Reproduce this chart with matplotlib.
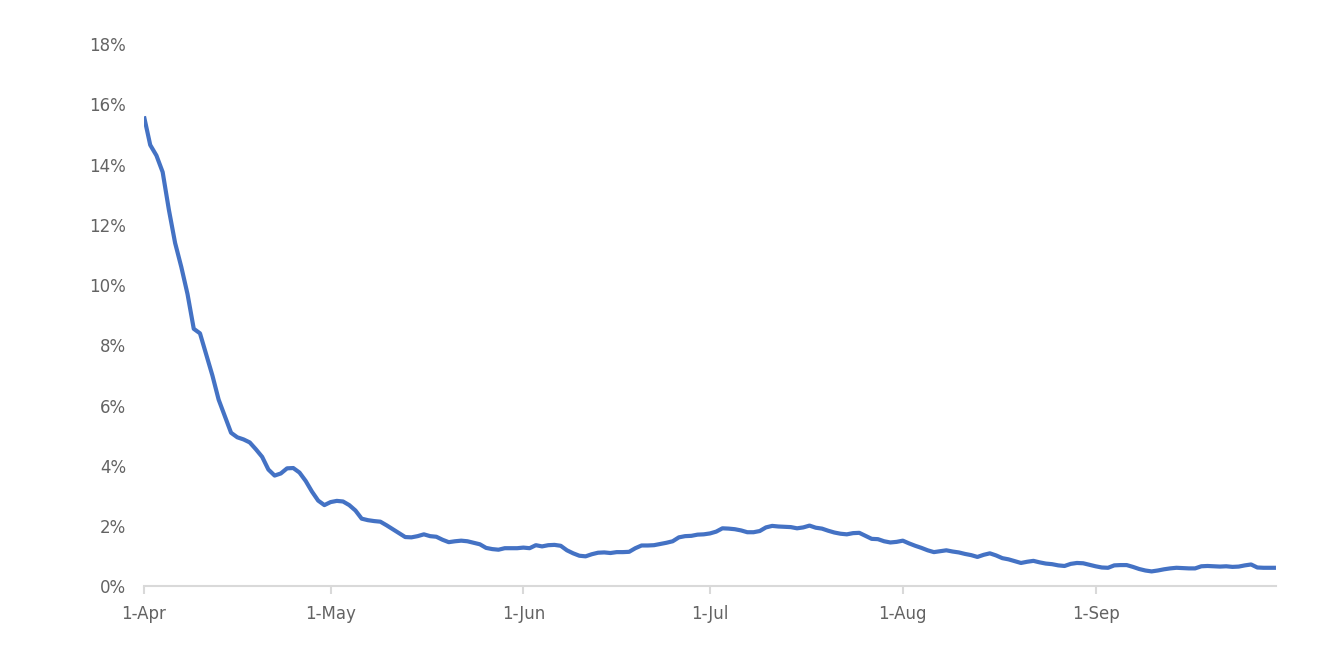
import numpy as np
import pandas as pd
import matplotlib
matplotlib.use("Agg")
import matplotlib.pyplot as plt
import matplotlib.dates as mdates
from matplotlib.ticker import FuncFormatter

# daily values, 1 Apr .. 30 Sep (percent)
start_date = "2020-04-01"
rate_pct = [
    15.6, 14.65, 14.3, 13.75, 12.5, 11.4, 10.6, 9.7, 8.55, 8.4,
    7.7, 7.0, 6.2, 5.65, 5.1, 4.95, 4.88, 4.78, 4.55, 4.3,
    3.88, 3.68, 3.75, 3.92, 3.93, 3.78, 3.5, 3.15, 2.85, 2.7,
    2.8, 2.84, 2.82, 2.7, 2.52, 2.25, 2.2, 2.17, 2.15, 2.03,
    1.9, 1.77, 1.64, 1.63, 1.67, 1.73, 1.67, 1.65, 1.55, 1.47,
    1.5, 1.52, 1.5, 1.45, 1.4, 1.28, 1.24, 1.22, 1.27, 1.27,
    1.27, 1.29, 1.27, 1.37, 1.33, 1.37, 1.38, 1.35, 1.2, 1.1,
    1.02, 1.0, 1.07, 1.12, 1.13, 1.11, 1.14, 1.14, 1.15, 1.27,
    1.36, 1.36, 1.37, 1.41, 1.45, 1.5, 1.63, 1.67, 1.68, 1.72,
    1.73, 1.76, 1.82, 1.93, 1.92, 1.9, 1.86, 1.8, 1.8, 1.84,
    1.96, 2.01, 1.99, 1.98, 1.97, 1.93, 1.96, 2.02, 1.95, 1.92,
    1.85, 1.79, 1.75, 1.73, 1.77, 1.78, 1.68, 1.58, 1.57, 1.5,
    1.46, 1.48, 1.52, 1.43, 1.35, 1.28, 1.2, 1.14, 1.17, 1.2,
    1.16, 1.13, 1.08, 1.04, 0.98, 1.05, 1.1, 1.03, 0.94, 0.9,
    0.84, 0.78, 0.82, 0.85, 0.8, 0.76, 0.74, 0.7, 0.68, 0.75,
    0.78, 0.77, 0.72, 0.67, 0.63, 0.62, 0.7, 0.71, 0.71, 0.65,
    0.58, 0.53, 0.5, 0.53, 0.57, 0.6, 0.62, 0.61, 0.6, 0.6,
    0.67, 0.68, 0.67, 0.66, 0.67, 0.65, 0.66, 0.7, 0.73, 0.63,
    0.62, 0.62, 0.62,
]
dates = pd.date_range(start_date, periods=len(rate_pct), freq="D")
yticks = list(range(0, 19, 2))

grey = "#636363"
axis_grey = "#D9D9D9"

plt.rcParams["font.family"] = ["DejaVu Sans"]

fig = plt.figure(figsize=(13.42, 6.52), dpi=100)
ax = fig.add_axes([0.1073, 0.1005, 0.8435, 0.832])

ax.plot(dates, rate_pct, color="#4472C4", linewidth=3.0,
        solid_capstyle="butt", solid_joinstyle="round")

ax.set_ylim(0, 18)
ax.set_yticks(yticks)
ax.yaxis.set_major_formatter(FuncFormatter(lambda v, p: f"{v:.0f}%"))
ax.set_xlim(dates[0], pd.Timestamp("2020-09-30"))
ax.xaxis.set_major_locator(mdates.MonthLocator())
ax.xaxis.set_major_formatter(FuncFormatter(
    lambda v, p: f"{mdates.num2date(v).day}-{mdates.num2date(v).strftime('%b')}"))

for side in ["top", "right", "left"]:
    ax.spines[side].set_visible(False)
ax.spines["bottom"].set_color(axis_grey)
ax.spines["bottom"].set_linewidth(1.5)
ax.tick_params(axis="y", length=0, pad=13, labelsize=12, labelcolor=grey)
ax.tick_params(axis="x", length=6, width=1.5, color=axis_grey, pad=7,
               labelsize=12, labelcolor=grey)

fig.savefig("out.png", dpi=100, facecolor="white")
